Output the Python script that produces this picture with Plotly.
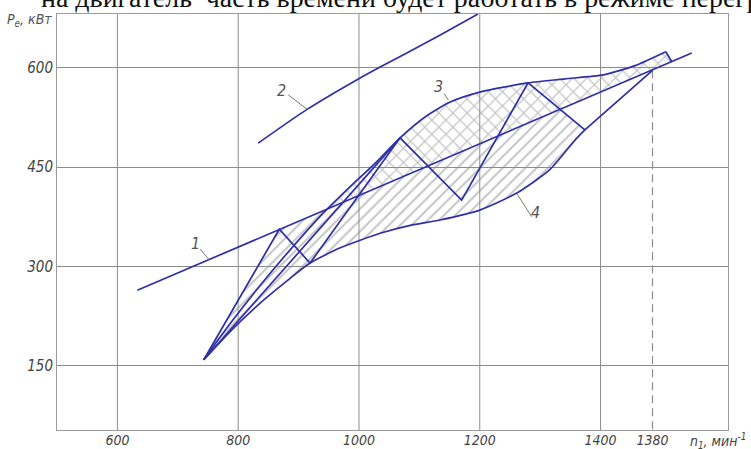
import numpy as np
import plotly.graph_objects as go

# ---------------- data (n, rpm ; Pe, kW) ----------------
x_ticks = [600, 800, 1000, 1200, 1400, 1486]
x_tick_labels = ["600", "800", "1000", "1200", "1400", "1380"]
y_ticks = [150, 300, 450, 600]
y_tick_labels = ["150", "300", "450", "600"]

# line 1
n_line1 = [633, 1551]
p_line1 = [264, 622]

# line 2
n_line2 = [833, 914, 999, 1035, 1120, 1197]
p_line2 = [486, 537, 583, 601, 642, 681]

# upper curve (3)
n_upper = [743, 787, 837, 886, 936, 985, 1027, 1068, 1110, 1151, 1200, 1280, 1341, 1404, 1457, 1508]
p_upper = [159, 214, 272, 325, 376, 420, 456, 494, 526, 548, 563, 577, 583, 589, 603, 624]

# lower curve (4)
n_lower = [743, 787, 842, 886, 919, 969, 1035, 1085, 1134, 1200, 1262, 1316, 1358, 1374]
p_lower = [159, 202, 249, 282, 305, 328, 350, 362, 370, 385, 411, 446, 491, 506]

# zig-zag (switching) line
n_zig = [743, 868, 919, 1068, 1170, 1280, 1374, 1486]
p_zig = [159, 356, 305, 494, 400, 577, 506, 596]

# tip of the band
n_tip = [1508, 1518]
p_tip = [624, 609]

# chord from origin
n_chord = [743, 1068]
p_chord = [159, 494]

n_rated = 1486
p_rated = 596
n_cross_start = 952
n_single_end = 1333


def line1_at(n):
    return float(np.interp(n, n_line1, p_line1))


BLUE = "#2f2fa8"
GRID = "#8c8c8c"
HATCH = "#8a8a8a"
FONT = "Liberation Sans Narrow, DejaVu Sans Condensed, Liberation Sans, sans-serif"

fig = go.Figure()

# ---------- cross-hatched region (between upper curve and line 1) ----------
cx = [n_cross_start] + [n for n in n_upper if n > n_cross_start] + [n_tip[1], n_cross_start]
cy = [line1_at(n_cross_start)] + [p for n, p in zip(n_upper, p_upper) if n > n_cross_start] + [p_tip[1], line1_at(n_cross_start)]
fig.add_trace(go.Scatter(
    x=cx, y=cy, mode="lines", fill="toself", line=dict(width=0),
    fillcolor="rgba(0,0,0,0)",
    fillpattern=dict(shape="x", size=10, solidity=0.22, fgcolor=HATCH, bgcolor="rgba(0,0,0,0)"),
    hoverinfo="skip", showlegend=False))

# ---------- single-hatched region (between line 1 and lower curve) ----------
sx = [n_zig[0], n_zig[1], n_single_end, n_zig[6]] + n_lower[::-1]
sy = [p_zig[0], p_zig[1], line1_at(n_single_end), p_zig[6]] + p_lower[::-1]
fig.add_trace(go.Scatter(
    x=sx, y=sy, mode="lines", fill="toself", line=dict(width=0),
    fillcolor="rgba(0,0,0,0)",
    fillpattern=dict(shape="/", size=8, solidity=0.25, fgcolor=HATCH, bgcolor="rgba(0,0,0,0)"),
    hoverinfo="skip", showlegend=False))

# ---------- blue lines ----------
def blue(x, y, shape="linear"):
    fig.add_trace(go.Scatter(x=x, y=y, mode="lines",
                             line=dict(color=BLUE, width=1.7, shape=shape, smoothing=0.6),
                             hoverinfo="skip", showlegend=False))

blue(n_line1, p_line1)
blue(n_line2, p_line2, "spline")
blue(n_upper, p_upper, "spline")
blue([n_upper[-1]] + [n_tip[1]], [p_upper[-1]] + [p_tip[1]])
blue(n_lower, p_lower, "spline")
blue(n_zig, p_zig)
blue(n_chord, p_chord)

# ---------- grid lines and dashed rated line ----------
shapes = []
for xv in x_ticks[:5]:
    shapes.append(dict(type="line", xref="x", yref="paper", x0=xv, x1=xv, y0=0, y1=1,
                       line=dict(color=GRID, width=1), layer="below"))
shapes.append(dict(type="line", xref="x", yref="y", x0=n_rated, x1=n_rated, y0=p_rated, y1=53,
                   line=dict(color=GRID, width=1.2, dash="8px,5px"), layer="below"))

# leader lines for the curve numbers
leaders = [((737, 326), (752, 310)), ((883, 559), (914, 537)),
           ((1141, 561), (1148, 551)), ((1286, 375), (1262, 409))]
for (a, b) in leaders:
    shapes.append(dict(type="line", xref="x", yref="y", x0=a[0], y0=a[1], x1=b[0], y1=b[1],
                       line=dict(color="#777777", width=1)))

annotations = []
for txt, (xa, ya) in zip(["1", "2", "3", "4"], [(729, 335), (872, 566), (1131, 571), (1292, 382)]):
    annotations.append(dict(text=txt, x=xa, y=ya, xref="x", yref="y", showarrow=False,
                            font=dict(family=FONT, size=16, color="#555555", style="italic")))

annotations.append(dict(text="P<sub>e</sub>, кВт", x=-0.0775, y=0.985, xref="paper", yref="paper",
                        xanchor="left", yanchor="middle", showarrow=False,
                        font=dict(family=FONT, size=14, color="#555555", style="italic")))
annotations.append(dict(text="n<sub>1</sub>, мин<sup>-1</sup>", x=0.941, y=-0.027, xref="paper", yref="paper",
                        xanchor="left", yanchor="middle", showarrow=False,
                        font=dict(family=FONT, size=14, color="#444444", style="italic")))
annotations.append(dict(text="на двигатель  часть времени будет работать в режиме перегрузки",
                        x=-0.0275, y=1.039, xref="paper", yref="paper",
                        xanchor="left", yanchor="middle", showarrow=False,
                        font=dict(family="Liberation Serif, DejaVu Serif, serif", size=27.9, color="#111111")))

fig.update_layout(
    width=751, height=449,
    margin=dict(l=57, r=23, t=14, b=19, autoexpand=False),
    paper_bgcolor="white", plot_bgcolor="white",
    shapes=shapes, annotations=annotations,
    xaxis=dict(range=[500, 1611], tickvals=x_ticks, ticktext=x_tick_labels, automargin=False,
               showgrid=False, zeroline=False, showline=True, mirror=True,
               linecolor="#9a9a9a", linewidth=1, ticks="", ticklabelstandoff=-3,
               tickfont=dict(family=FONT, size=14, color="#444444", style="italic")),
    yaxis=dict(range=[53, 681], tickvals=y_ticks, ticktext=y_tick_labels, automargin=False,
               showgrid=True, gridcolor=GRID, gridwidth=1, zeroline=False,
               showline=True, mirror=True, linecolor="#9a9a9a", linewidth=1, ticks="",
               tickfont=dict(family=FONT, size=15, color="#444444", style="italic")),
)

fig.write_html("out.html", config={"displayModeBar": False},
               post_script="document.body.style.margin='0';")
